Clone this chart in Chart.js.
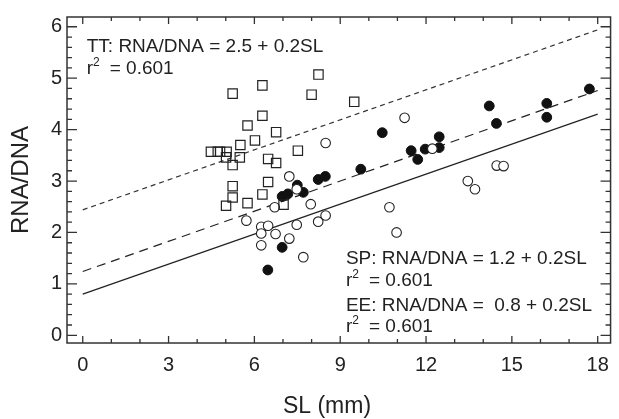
<!DOCTYPE html>
<html>
<head>
<meta charset="utf-8">
<script src="https://cdn.jsdelivr.net/npm/chart.js@4.4.0/dist/chart.umd.min.js"></script>
<style>
  body { margin: 0; background: #fff; }
  #wrap { width: 619px; height: 419px; }
</style>
</head>
<body>
<div id="wrap"><canvas id="chart" width="619" height="419"></canvas></div>
<script>
// TT (open squares)
const ttX = [4.48, 4.72, 4.8, 5.03, 5.01, 5.24, 5.49, 5.24, 6.28, 6.28, 5.76, 6.76, 6.02, 5.51, 6.48, 6.76, 7.52, 8.24, 8.0, 9.49, 5.24, 6.48, 5.24, 6.28, 5.76, 5.01, 7.02];
const ttY = [3.57, 3.57, 3.57, 3.57, 3.46, 3.31, 3.46, 4.70, 4.86, 4.27, 4.08, 3.95, 3.79, 3.70, 3.43, 3.35, 3.59, 5.07, 4.68, 4.54, 2.90, 2.98, 2.68, 2.74, 2.57, 2.52, 2.54];
// EE (open circles)
const eeX = [7.22, 6.71, 5.72, 6.24, 6.48, 6.24, 6.74, 7.22, 6.24, 7.48, 7.71, 7.97, 8.23, 8.49, 7.48, 8.49, 11.25, 10.72, 10.97, 12.22, 13.46, 13.71, 14.47, 14.71];
const eeY = [3.09, 2.49, 2.23, 2.11, 2.13, 1.98, 1.97, 1.88, 1.75, 2.15, 1.52, 2.55, 2.21, 2.33, 2.84, 3.74, 4.23, 2.49, 2.00, 3.63, 3.00, 2.84, 3.30, 3.29];
// SP (filled circles)
const spX = [6.47, 6.97, 6.97, 7.17, 7.5, 7.71, 8.23, 8.48, 9.72, 10.47, 11.48, 11.71, 11.97, 12.46, 12.46, 14.21, 14.46, 16.22, 16.22, 17.71];
const spY = [1.27, 1.71, 2.70, 2.75, 2.92, 2.78, 3.03, 3.09, 3.23, 3.94, 3.59, 3.42, 3.62, 3.86, 3.65, 4.46, 4.12, 4.51, 4.24, 4.79];

// fitted lines, end points
const lineX = [0, 18];
const ttLineY = [2.44, 5.94];
const spLineY = [1.24, 4.76];
const eeLineY = [0.80, 4.30];

const xTicks = [0, 3, 6, 9, 12, 15, 18];
const xMinor = [1, 2, 4, 5, 7, 8, 10, 11, 13, 14, 16, 17];
const yTicks = [0, 1, 2, 3, 4, 5, 6];

const notes = [
  { x: 0.14, y: 5.5, text: "TT: RNA/DNA = 2.5 + 0.2SL" },
  { x: 0.14, y: 5.08, r2: "0.601" },
  { x: 9.2, y: 1.39, text: "SP: RNA/DNA = 1.2 + 0.2SL" },
  { x: 9.2, y: 0.95, r2: "0.601" },
  { x: 9.2, y: 0.48, text: "EE: RNA/DNA =  0.8 + 0.2SL" },
  { x: 9.2, y: 0.06, r2: "0.601" }
];

const FONT = "'Liberation Sans', Arial, Helvetica, sans-serif";
const pts = (xs, ys) => xs.map((x, i) => ({ x: x, y: ys[i] }));

const framePlugin = {
  id: 'frame',
  afterDraw(chart) {
    const ctx = chart.ctx;
    const a = chart.chartArea;
    const xs = chart.scales.x, ys = chart.scales.y;
    ctx.save();
    ctx.strokeStyle = '#333';
    ctx.lineWidth = 1.5;
    ctx.strokeRect(a.left, a.top, a.right - a.left, a.bottom - a.top);
    ctx.lineWidth = 1.3;
    ctx.beginPath();
    const xt = (v, len) => {
      const p = xs.getPixelForValue(v);
      ctx.moveTo(p, a.bottom); ctx.lineTo(p, a.bottom - len);
      ctx.moveTo(p, a.top); ctx.lineTo(p, a.top + len);
    };
    const yt = (v, len) => {
      const p = ys.getPixelForValue(v);
      ctx.moveTo(a.left, p); ctx.lineTo(a.left + len, p);
      ctx.moveTo(a.right, p); ctx.lineTo(a.right - len, p);
    };
    xTicks.forEach(v => xt(v, 7));
    xMinor.forEach(v => xt(v, 4));
    yTicks.forEach(v => yt(v, 10));
    for (let i = 0; i <= 30; i++) {
      if (i % 5 !== 0) yt(i / 5, 5);
    }
    ctx.stroke();

    // annotations
    ctx.fillStyle = '#222';
    ctx.textBaseline = 'alphabetic';
    ctx.textAlign = 'left';
    notes.forEach(n => {
      const px = xs.getPixelForValue(n.x);
      const py = ys.getPixelForValue(n.y);
      ctx.font = '19px ' + FONT;
      if (n.text) {
        ctx.fillText(n.text, px, py);
      } else {
        ctx.fillText('r', px, py);
        const rw = ctx.measureText('r').width;
        ctx.font = '12px ' + FONT;
        ctx.fillText('2', px + rw, py - 8);
        ctx.font = '19px ' + FONT;
        ctx.fillText('= ' + n.r2, px + 23, py);
      }
    });

    // x axis title
    ctx.font = '23px ' + FONT;
    ctx.textAlign = 'center';
    ctx.fillText('SL (mm)', 327, 413);
    ctx.restore();
  }
};

new Chart(document.getElementById('chart'), {
  type: 'scatter',
  data: {
    datasets: [
      { label: 'TT', data: pts(ttX, ttY), pointStyle: 'rect', pointRadius: 6.6,
        borderColor: '#222', backgroundColor: 'rgba(0,0,0,0)', borderWidth: 1.2 },
      { label: 'EE', data: pts(eeX, eeY), pointStyle: 'circle', pointRadius: 4.8,
        borderColor: '#222', backgroundColor: '#fff', borderWidth: 1.1 },
      { label: 'SP', data: pts(spX, spY), pointStyle: 'circle', pointRadius: 4.9,
        borderColor: '#111', backgroundColor: '#111', borderWidth: 1 },
      { type: 'line', label: 'TT fit', data: pts(lineX, ttLineY), borderColor: '#333',
        borderWidth: 1.2, borderDash: [5, 4], pointRadius: 0, fill: false },
      { type: 'line', label: 'SP fit', data: pts(lineX, spLineY), borderColor: '#222',
        borderWidth: 1.2, borderDash: [9, 6], pointRadius: 0, fill: false },
      { type: 'line', label: 'EE fit', data: pts(lineX, eeLineY), borderColor: '#222',
        borderWidth: 1.2, pointRadius: 0, fill: false }
    ]
  },
  options: {
    responsive: false,
    animation: false,
    layout: { padding: { left: 0, right: 1, top: 10, bottom: 0 } },
    plugins: { legend: { display: false }, tooltip: { enabled: false } },
    scales: {
      x: {
        type: 'linear', min: -0.55, max: 18.45,
        grid: { display: false, drawTicks: false },
        border: { display: false },
        afterBuildTicks: s => { s.ticks = xTicks.map(v => ({ value: v })); },
        afterFit: s => { s.height = 76; },
        ticks: { color: '#222', font: { size: 20, family: FONT }, padding: 10, maxRotation: 0 }
      },
      y: {
        type: 'linear', min: -0.15, max: 6.19,
        grid: { display: false, drawTicks: false },
        border: { display: false },
        afterBuildTicks: s => { s.ticks = yTicks.map(v => ({ value: v })); },
        afterFit: s => { s.width = 67; },
        ticks: { color: '#222', font: { size: 20, family: FONT }, padding: 5 },
        title: { display: true, text: 'RNA/DNA', color: '#222',
          font: { size: 24, family: FONT }, padding: { top: 7, bottom: 0 } }
      }
    }
  },
  plugins: [framePlugin]
});
</script>
</body>
</html>
